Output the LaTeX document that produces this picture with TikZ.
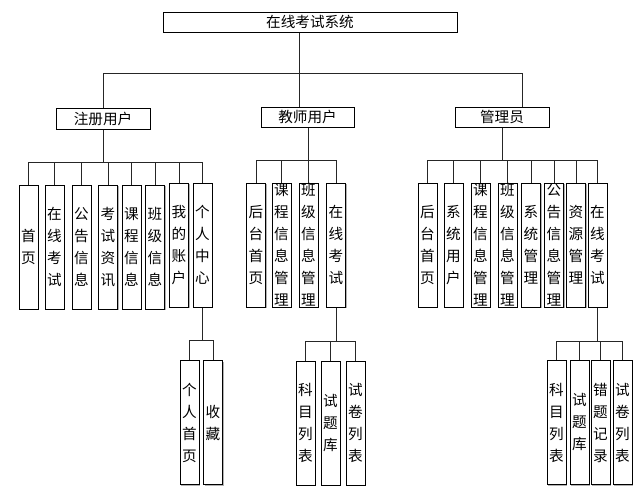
\documentclass[tikz,border=0pt]{standalone}
\usepackage{fontspec}
\setmainfont{Noto Sans CJK SC}
\usetikzlibrary{shadows}
\begin{document}
\begin{tikzpicture}[x=1pt,y=-1pt,
  hbox/.style={draw=black, line width=1pt, fill=white, inner sep=0pt,
    font=\fontsize{14.6}{16}\selectfont,
    drop shadow={shadow xshift=1.3pt,shadow yshift=-1.3pt,fill=gray!60,opacity=1}},
  vbox/.style={hbox, minimum width=19pt, minimum height=124pt, inner ysep=-3pt, align=center,
    font=\fontsize{14.6}{22}\selectfont},
  conn/.style={line width=1pt, draw=black!85}]
\path[use as bounding box] (0,0) rectangle (640,501);

% level 1 and 2
\node[hbox, minimum width=294pt, minimum height=20pt] (top) at (310,22) {在线考试系统};
\node[hbox, minimum width=94pt, minimum height=21pt] (reg) at (103,118.5) {注册用户};
\node[hbox, minimum width=93pt, minimum height=20pt] (tea) at (307.5,117) {教师用户};
\node[hbox, minimum width=94pt, minimum height=20pt] (adm) at (502,117) {管理员};

% registered user row
\node[vbox] (r1) at (28.5,247) {首\\页};
\node[vbox] (r2) at (54.5,247) {在\\线\\考\\试};
\node[vbox] (r3) at (81.5,247) {公\\告\\信\\息};
\node[vbox] (r4) at (108,247) {考\\试\\资\\讯};
\node[vbox] (r5) at (131.5,247) {课\\程\\信\\息};
\node[vbox] (r6) at (155,247) {班\\级\\信\\息};
\node[vbox] (r7) at (179,245) {我\\的\\账\\户};
\node[vbox] (r8) at (202.5,245) {个\\人\\中\\心};

% teacher row
\node[vbox] (t1) at (256,245) {后\\台\\首\\页};
\node[vbox] (t2) at (281.5,245) {课\\程\\信\\息\\管\\理};
\node[vbox] (t3) at (308.5,245) {班\\级\\信\\息\\管\\理};
\node[vbox] (t4) at (336,245) {在\\线\\考\\试};

% admin row
\node[vbox] (a1) at (427.5,245) {后\\台\\首\\页};
\node[vbox] (a2) at (453.5,245) {系\\统\\用\\户};
\node[vbox] (a3) at (480.5,245) {课\\程\\信\\息\\管\\理};
\node[vbox] (a4) at (507.5,245) {班\\级\\信\\息\\管\\理};
\node[vbox] (a5) at (531,245) {系\\统\\管\\理};
\node[vbox] (a6) at (554,245) {公\\告\\信\\息\\管\\理};
\node[vbox] (a7) at (576,245) {资\\源\\管\\理};
\node[vbox] (a8) at (597.5,245) {在\\线\\考\\试};

% level 3
\node[vbox] (p1) at (189.5,422.5) {个\\人\\首\\页};
\node[vbox] (p2) at (213,422.5) {收\\藏};
\node[vbox] (e1) at (305.5,423) {科\\目\\列\\表};
\node[vbox] (e2) at (330.5,423) {试\\题\\库};
\node[vbox] (e3) at (355.5,423) {试\\卷\\列\\表};
\node[vbox] (f1) at (556.5,422.5) {科\\目\\列\\表};
\node[vbox] (f2) at (579.5,422.5) {试\\题\\库};
\node[vbox] (f3) at (600.5,422.5) {错\\题\\记\\录};
\node[vbox] (f4) at (622.5,422.5) {试\\卷\\列\\表};

% junctions
\coordinate (j0) at (299,73);
\coordinate (jL) at (103,73);
\coordinate (jR) at (522,73);
\coordinate (r0) at (103,162);
\coordinate (t0) at (308,160);
\coordinate (a0) at (502,160);
\coordinate (p0) at (202,340);
\coordinate (e0) at (336,341);
\coordinate (f0) at (597.5,341);

% top level connectors
\draw[conn] (j0 |- top.south) -- (j0);
\draw[conn] (jL |- reg.north) -- (jL) -- (jR) -- (jR |- adm.north);
\draw[conn] (j0) -- (j0 |- tea.north);

% registered user
\draw[conn] (r0 |- reg.south) -- (r0);
\draw[conn] (r1 |- r0) -- (r8 |- r0);
\foreach \n in {r1,r2,r3,r4,r5,r6,r7,r8} \draw[conn] (\n.north) -- (\n |- r0);

% teacher
\draw[conn] (t0 |- tea.south) -- (t0);
\draw[conn] (t1 |- t0) -- (t4 |- t0);
\foreach \n in {t1,t2,t3,t4} \draw[conn] (\n.north) -- (\n |- t0);

% admin
\draw[conn] (a0 |- adm.south) -- (a0);
\draw[conn] (a1 |- a0) -- (a8 |- a0);
\foreach \n in {a1,a2,a3,a4,a5,a6,a7,a8} \draw[conn] (\n.north) -- (\n |- a0);

% personal centre
\draw[conn] (p0 |- r8.south) -- (p0);
\draw[conn] (p1 |- p0) -- (p2 |- p0);
\foreach \n in {p1,p2} \draw[conn] (\n.north) -- (\n |- p0);

% teacher exam
\draw[conn] (e0 |- t4.south) -- (e0);
\draw[conn] (e1 |- e0) -- (e3 |- e0);
\foreach \n in {e1,e2,e3} \draw[conn] (\n.north) -- (\n |- e0);

% admin exam
\draw[conn] (f0 |- a8.south) -- (f0);
\draw[conn] (f1 |- f0) -- (f4 |- f0);
\foreach \n in {f1,f2,f3,f4} \draw[conn] (\n.north) -- (\n |- f0);
\end{tikzpicture}
\end{document}
